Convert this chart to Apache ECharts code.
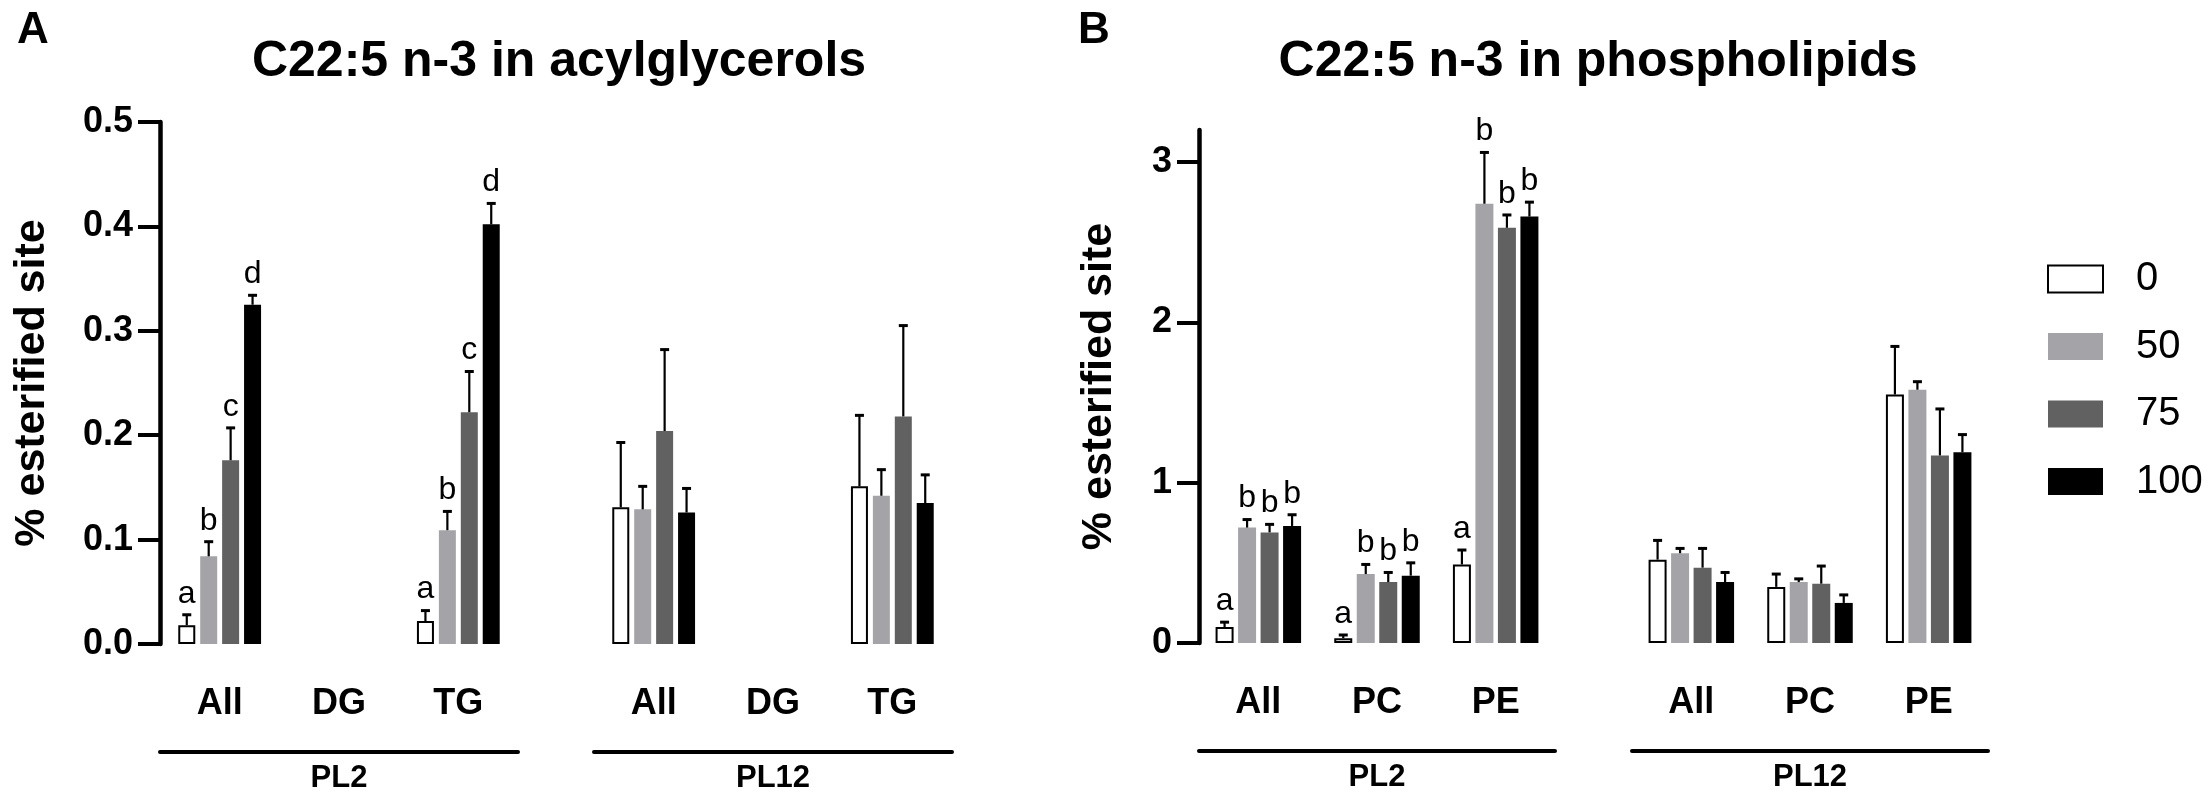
<!DOCTYPE html>
<html><head><meta charset="utf-8">
<script src="https://cdn.jsdelivr.net/npm/echarts@6/dist/echarts.min.js"></script>
<style>html,body{margin:0;padding:0;background:#fff}#c{width:2208px;height:801px}</style>
</head><body><div id="c"></div>
<script>
// ---------- data ----------
const seriesNames = ['0', '50', '75', '100'];
const groupNames = ['PL2', 'PL12'];
const acylCats = ['All', 'DG', 'TG'];
const phosCats = ['All', 'PC', 'PE'];
const acylTicks = [0, 0.1, 0.2, 0.3, 0.4, 0.5];
const phosTicks = [0, 1, 2, 3];

// Panel A: means (per dose 0/50/75/100) and mean+error tops
const acylPL2Mean = [[0.018, null, 0.022], [0.084, null, 0.109], [0.176, null, 0.222], [0.325, null, 0.402]];
const acylPL2Top  = [[0.028, null, 0.032], [0.098, null, 0.127], [0.207, null, 0.261], [0.334, null, 0.422]];
const acylPL2Sig  = [['a', '', 'a'], ['b', '', 'b'], ['c', '', 'c'], ['d', '', 'd']];
const acylPL12Mean = [[0.131, null, 0.151], [0.129, null, 0.142], [0.204, null, 0.218], [0.126, null, 0.135]];
const acylPL12Top  = [[0.193, null, 0.219], [0.151, null, 0.167], [0.282, null, 0.305], [0.149, null, 0.162]];

// Panel B
const phosPL2Mean = [[0.10, 0.03, 0.49], [0.72, 0.43, 2.74], [0.69, 0.38, 2.59], [0.73, 0.42, 2.66]];
const phosPL2Top  = [[0.13, 0.05, 0.58], [0.77, 0.49, 3.06], [0.74, 0.44, 2.67], [0.80, 0.50, 2.75]];
const phosPL2Sig  = [['a', 'a', 'a'], ['b', 'b', 'b'], ['b', 'b', 'b'], ['b', 'b', 'b']];
const phosPL12Mean = [[0.52, 0.35, 1.55], [0.56, 0.38, 1.58], [0.47, 0.37, 1.17], [0.38, 0.25, 1.19]];
const phosPL12Top  = [[0.64, 0.43, 1.85], [0.59, 0.40, 1.63], [0.59, 0.48, 1.46], [0.44, 0.30, 1.30]];

// ---------- styling ----------
const FONT = '"Liberation Sans", Arial, sans-serif';
const barStyles = [
  { color: '#ffffff', borderColor: '#000000', borderWidth: 2 },
  { color: '#a4a4a8' },
  { color: '#616161' },
  { color: '#000000' }
];

const grids = [];
const xAxes = [];
const yAxes = [];
const series = [];

function addPanelGroup(gi, box, cats, group, means, tops, sigs, yMax, ticks, showY, yFmt, nameGap, bw, gapRatio) {
  grids.push({ left: box.left, top: box.top, width: box.width, height: box.height });
  const cx = xAxes.length;
  xAxes.push({
    type: 'category', gridIndex: gi, data: cats, boundaryGap: true,
    axisLine: { show: false }, axisTick: { show: false }, splitLine: { show: false },
    axisLabel: { fontSize: 36, fontWeight: 'bold', fontFamily: FONT, color: '#000', margin: 42 }
  });
  xAxes.push({
    type: 'category', gridIndex: gi, data: [group], position: 'bottom', offset: 108,
    axisLine: { show: true, lineStyle: { color: '#000', width: 4 } },
    axisTick: { show: false }, splitLine: { show: false },
    axisLabel: { fontSize: 31, fontWeight: 'bold', fontFamily: FONT, color: '#000', margin: 11 }
  });
  const yi = yAxes.length;
  yAxes.push({
    type: 'value', gridIndex: gi, min: 0, max: yMax, show: showY,
    splitLine: { show: false },
    axisLine: { show: true, lineStyle: { color: '#000', width: 4.5 } },
    axisTick: { show: true, length: 22, lineStyle: { color: '#000', width: 4 }, customValues: ticks },
    axisLabel: { fontSize: 36, fontWeight: 'bold', fontFamily: FONT, color: '#000', margin: 27,
      customValues: ticks, formatter: yFmt },
    name: '% esterified site', nameLocation: 'middle', nameGap: nameGap, nameRotate: 90,
    nameTextStyle: { fontSize: 43, fontWeight: 'bold', fontFamily: FONT, color: '#000' }
  });
  for (let s = 0; s < 4; s++) {
    series.push({
      type: 'bar', name: seriesNames[s], xAxisIndex: cx, yAxisIndex: yi,
      data: means[s], barWidth: bw, barGap: (gapRatio * 100) + '%',
      itemStyle: barStyles[s], silent: true, animation: false
    });
  }
  const step = bw * (1 + gapRatio);
  const errData = [];
  const errSig = [];
  for (let s = 0; s < 4; s++) {
    for (let c = 0; c < cats.length; c++) {
      if (means[s][c] == null) continue;
      errData.push([c, s, means[s][c], tops[s][c]]);
      errSig.push(sigs ? sigs[s][c] : '');
    }
  }
  series.push({
    type: 'custom', xAxisIndex: cx, yAxisIndex: yi, data: errData, z: 10,
    encode: { x: 0, y: 3 }, silent: true, animation: false,
    renderItem: function (params, api) {
      const c = api.value(0), s = api.value(1), m = api.value(2), t = api.value(3);
      const p0 = api.coord([c, m]);
      const p1 = api.coord([c, t]);
      const x = p0[0] + (s - 1.5) * step;
      const children = [
        { type: 'line', shape: { x1: x, y1: p0[1], x2: x, y2: p1[1] }, style: { stroke: '#000', lineWidth: 2.2 } },
        { type: 'line', shape: { x1: x - 4.5, y1: p1[1], x2: x + 4.5, y2: p1[1] }, style: { stroke: '#000', lineWidth: 3 } }
      ];
      const letter = errSig[params.dataIndex];
      if (letter) {
        children.push({ type: 'text', x: x, y: p1[1] - 5,
          style: { text: letter, fontSize: 32, fontFamily: FONT, fill: '#000', align: 'center', verticalAlign: 'bottom' } });
      }
      return { type: 'group', children: children };
    }
  });
}

const fmtA = v => v.toFixed(1);
const fmtB = v => String(v);

addPanelGroup(0, { left: 160, top: 122, width: 358, height: 522 }, acylCats, groupNames[0], acylPL2Mean, acylPL2Top, acylPL2Sig, 0.5, acylTicks, true, fmtA, 106, 17, 0.29);
addPanelGroup(1, { left: 594, top: 122, width: 358, height: 522 }, acylCats, groupNames[1], acylPL12Mean, acylPL12Top, null, 0.5, acylTicks, false, fmtA, 106, 17, 0.29);
addPanelGroup(2, { left: 1199, top: 130, width: 356, height: 513 }, phosCats, groupNames[0], phosPL2Mean, phosPL2Top, phosPL2Sig, 3.2, phosTicks, true, fmtB, 78, 18, 0.25);
addPanelGroup(3, { left: 1632, top: 130, width: 356, height: 513 }, phosCats, groupNames[1], phosPL12Mean, phosPL12Top, null, 3.2, phosTicks, false, fmtB, 78, 18, 0.25);

const option = {
  backgroundColor: '#fff',
  animation: false,
  textStyle: { fontFamily: FONT },
  title: [
    { text: 'A', left: 12, top: 4, textStyle: { fontSize: 44, fontWeight: 'bold', fontFamily: FONT, color: '#000' } },
    { text: 'C22:5 n-3 in acylglycerols', left: 554, top: 32, textAlign: 'center', textStyle: { fontSize: 50, fontWeight: 'bold', fontFamily: FONT, color: '#000' } },
    { text: 'B', left: 1073, top: 4, textStyle: { fontSize: 44, fontWeight: 'bold', fontFamily: FONT, color: '#000' } },
    { text: 'C22:5 n-3 in phospholipids', left: 1593, top: 32, textAlign: 'center', textStyle: { fontSize: 50, fontWeight: 'bold', fontFamily: FONT, color: '#000' } }
  ],
  legend: {
    data: seriesNames, orient: 'vertical', left: 2042, top: 254,
    itemWidth: 55, itemHeight: 27, itemGap: 27.5, icon: 'rect', selectedMode: false,
    textStyle: { fontSize: 40, fontFamily: FONT, color: '#000', padding: [0, 0, 0, 28] }
  },
  grid: grids,
  xAxis: xAxes,
  yAxis: yAxes,
  series: series
};

const chart = echarts.init(document.getElementById('c'), null, { renderer: 'canvas' });
chart.setOption(option);
</script>
</body></html>
